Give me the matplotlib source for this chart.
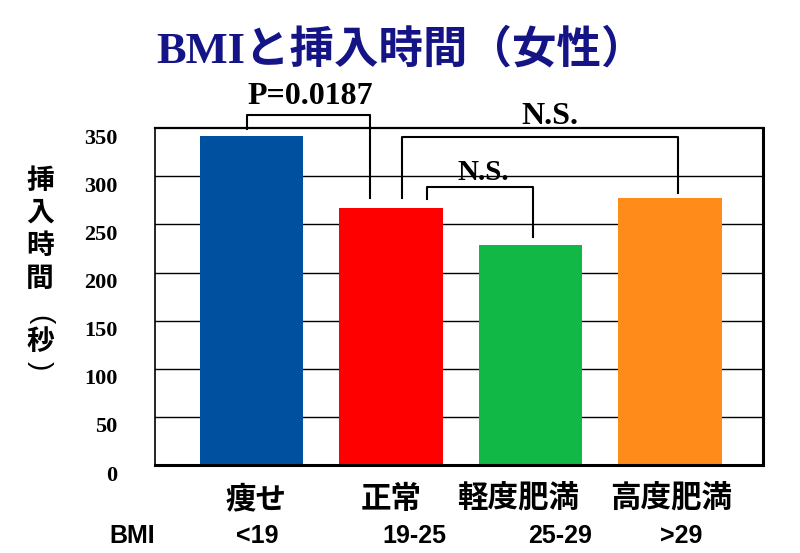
import matplotlib
matplotlib.use("Agg")
import matplotlib.pyplot as plt
import matplotlib.transforms as mtransforms

# データ
categories = ['痩せ', '正常', '軽度肥満', '高度肥満']
bmi_ranges = ['<19', '19-25', '25-29', '>29']
insert_time = [342, 267, 229, 277]
bar_colors = ['#0050A0', '#FF0000', '#12B845', '#FF8C1A']
y_ticks = [0, 50, 100, 150, 200, 250, 300, 350]

# 有意差の括弧: (左x, 右x, 上端, 左下端, 右下端, ラベル, ラベルx, ラベルy, 文字サイズ)
brackets = [
    (-0.03, 0.85, 364, 349, 277, 'P=0.0187', 0.42, 383, 23),
    (1.08, 3.06, 341, 277, 283, 'N.S.', 2.14, 362, 23),
    (1.26, 2.02, 289, 276, 237, 'N.S.', 1.66, 304, 21),
]

SERIF = ['Liberation Serif', 'Noto Sans CJK JP']
CJK = ['Noto Sans CJK JP', 'DejaVu Sans']
SANS = ['Liberation Sans', 'DejaVu Sans']

fig = plt.figure(figsize=(8, 5.53), dpi=100)
ax = fig.add_axes([0.194, 0.159, 0.76, 0.6094])

x = list(range(len(categories)))
ax.bar(x, insert_time, width=0.74, color=bar_colors, zorder=2)

ax.set_xlim(-0.689, 3.668)
ax.set_ylim(0, 350)

# 目盛り
ax.set_yticks(y_ticks)
ax.set_yticklabels([str(v) for v in y_ticks], family=SERIF, fontweight='bold', fontsize=16)
ax.tick_params(axis='y', length=0, pad=27)
ax.tick_params(axis='x', length=0, labelbottom=False)
shift = mtransforms.ScaledTranslation(0, -0.08, fig.dpi_scale_trans)
for lab in ax.get_yticklabels():
    lab.set_transform(lab.get_transform() + shift)

# 横線
for v in y_ticks[1:-1]:
    ax.axhline(v, color='black', linewidth=1, zorder=1)

# 枠線
ax.spines['left'].set_linewidth(1.2)
ax.spines['top'].set_linewidth(1.6)
ax.spines['right'].set_linewidth(2.2)
ax.spines['bottom'].set_linewidth(2.2)

# 括弧と検定結果
for x0, x1, top, yl, yr, lab, lx, ly, fs in brackets:
    ax.plot([x0, x0, x1, x1], [yl, top, top, yr], color='black', linewidth=1.5,
            clip_on=False, zorder=3)
    ax.text(lx, ly, lab, ha='center', va='center', family=SERIF, fontweight='bold',
            fontsize=fs, clip_on=False)

# カテゴリ名とBMI
trans = mtransforms.blended_transform_factory(ax.transData, fig.transFigure)
cat_x = [0.03, 1.0, 1.91, 3.01]
bmi_x = [0.04, 1.17, 2.21, 3.08]
for cx, name in zip(cat_x, categories):
    ax.text(cx, 1 - 499 / 553, name, transform=trans, ha='center', va='center',
            family=CJK, fontweight='bold', fontsize=22)
for bx, r in zip(bmi_x, bmi_ranges):
    ax.text(bx, 1 - 536 / 553, r, transform=trans, ha='center', va='center',
            family=SANS, fontweight='bold', fontsize=18)
fig.text(132 / 800, 1 - 536 / 553, 'BMI', ha='center', va='center',
         family=SANS, fontweight='bold', fontsize=18)

# 縦軸ラベル（縦書き）
ylabel_chars = ['挿', '入', '時', '間']
ylabel_y = [181, 213, 246, 279]
for ch, yy in zip(ylabel_chars, ylabel_y):
    fig.text(40 / 800, 1 - yy / 553, ch, ha='center', va='center',
             family=CJK, fontweight='bold', fontsize=20)
fig.text(40 / 800, 1 - 342 / 553, '秒', ha='center', va='center',
         family=CJK, fontweight='bold', fontsize=20)
# 括弧は横向きの丸括弧を回転させて縦書き用にする
fig.text(40 / 800, 1 - 320 / 553, '(', rotation=-90, ha='center', va='center',
         family=SANS, fontsize=20)
fig.text(40 / 800, 1 - 366 / 553, ')', rotation=-90, ha='center', va='center',
         family=SANS, fontsize=20)

# タイトル
fig.text(401 / 800, 1 - 50 / 553, 'BMIと挿入時間（女性）', ha='center', va='center',
         family=SERIF, fontweight='bold', fontsize=32, color='#141487')

plt.savefig('out.png', dpi=100)
